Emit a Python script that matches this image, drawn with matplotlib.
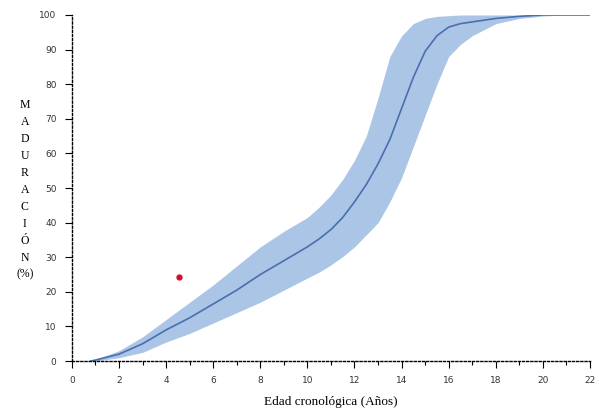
import numpy as np
import matplotlib.pyplot as plt
from matplotlib.ticker import MultipleLocator

# curva de maduración (mediana) y banda
edad = [0.8, 1, 2, 3, 4, 5, 6, 7, 8, 9, 10, 10.5, 11, 11.5, 12, 12.5, 13, 13.5,
        14, 14.5, 15, 15.5, 16, 16.5, 17, 18, 19, 20, 21, 22]
media = [0, 0.3, 2, 5, 9, 12.5, 16.5, 20.5, 25, 29, 33, 35.3, 38, 41.5, 46, 51,
         57, 64, 73, 82, 89.5, 94, 96.5, 97.5, 98, 99, 99.6, 100, 100, 100]
superior = [0, 0.5, 3, 7, 12, 17, 22, 27.5, 33, 37.5, 41.5, 44.5, 48, 52.5, 58, 65,
            76, 88, 94, 97.5, 99, 99.6, 99.8, 100, 100, 100, 100, 100, 100, 100]
inferior = [0, 0, 1, 2.5, 5.5, 8, 11, 14, 17, 20.5, 24, 25.7, 27.8, 30.2, 33,
            36.5, 40, 46, 53, 62, 71, 80, 88, 91.5, 94, 97.5, 99, 99.7, 100, 100]

punto_x = [4.55]
punto_y = [24.3]

fig = plt.figure(figsize=(5.99, 4.16), dpi=100)
ax = fig.add_axes([0.12, 0.132, 0.865, 0.832])

ax.fill_between(edad, inferior, superior, color='#abc5e6', lw=0)
ax.plot(edad, media, color='#4a6fae', lw=1.2)
ax.plot(punto_x, punto_y, 'o', color='#cc1030', ms=3.5)

ax.set_xlim(0, 22)
ax.set_ylim(0, 100)
ax.xaxis.set_major_locator(MultipleLocator(2))
ax.xaxis.set_minor_locator(MultipleLocator(1))
ax.yaxis.set_major_locator(MultipleLocator(10))

for s in ['top', 'right']:
    ax.spines[s].set_visible(False)
for s in ['left', 'bottom']:
    ax.spines[s].set_linestyle((0, (1.5, 1.5)))
    ax.spines[s].set_linewidth(1.0)

ax.tick_params(which='major', length=5, width=0.8, labelsize=6.5,
               labelcolor='#333333', pad=6)
ax.tick_params(which='minor', length=3, width=0.8)

ax.set_xlabel('Edad cronológica (Años)', family='Liberation Serif',
              fontsize=9.5, labelpad=8)
ax.text(-0.091, 0.495, 'M\nA\nD\nU\nR\nA\nC\nI\nÓ\nN\n(%)', transform=ax.transAxes,
        ha='center', va='center', family='Liberation Serif', fontsize=8.5,
        linespacing=1.55)

fig.savefig('out.png', dpi=100)
